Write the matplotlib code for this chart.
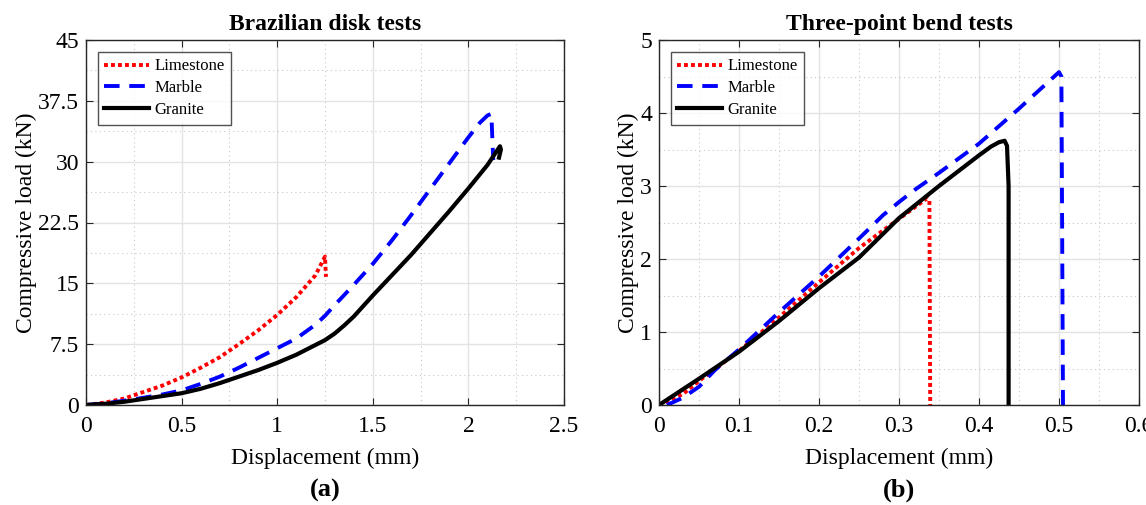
import numpy as np
import matplotlib.pyplot as plt
from matplotlib.ticker import MultipleLocator

plt.rcParams['font.family'] = ['Liberation Serif', 'DejaVu Serif']

# Brazilian disk tests (a)
bd_lime_x = [0, 0.1, 0.2, 0.3, 0.4, 0.5, 0.6, 0.7, 0.8, 0.9, 1.0, 1.1, 1.2, 1.25, 1.255]
bd_lime_y = [0, 0.3, 0.8, 1.6, 2.4, 3.4, 4.6, 5.9, 7.5, 9.2, 11.1, 13.3, 16.0, 18.3, 15.8]
bd_marb_x = [0, 0.1, 0.25, 0.4, 0.5, 0.6, 0.7, 0.8, 0.9, 1.0, 1.1, 1.2, 1.25, 1.3, 1.4, 1.5,
             1.6, 1.7, 1.8, 1.9, 2.0, 2.06, 2.1, 2.12, 2.125, 2.13]
bd_marb_y = [0, 0.2, 0.7, 1.3, 1.8, 2.6, 3.5, 4.6, 5.8, 7.0, 8.2, 9.9, 11.0, 12.3, 14.8, 17.4,
             20.3, 23.4, 26.6, 29.8, 33.0, 34.8, 35.7, 35.9, 33.0, 30.2]
bd_gran_x = [0, 0.1, 0.2, 0.3, 0.4, 0.5, 0.6, 0.7, 0.8, 0.9, 1.0, 1.1, 1.2, 1.25, 1.3, 1.35,
             1.4, 1.5, 1.6, 1.7, 1.8, 1.9, 2.0, 2.1, 2.165, 2.17, 2.16]
bd_gran_y = [0, 0.15, 0.4, 0.75, 1.1, 1.45, 2.0, 2.7, 3.5, 4.3, 5.2, 6.2, 7.4, 8.0, 8.8, 9.8,
             10.9, 13.5, 16.0, 18.5, 21.2, 23.9, 26.7, 29.6, 31.9, 31.5, 30.5]

# Three-point bend tests (b)
tp_lime_x = [0, 0.03, 0.05, 0.1, 0.15, 0.2, 0.25, 0.3, 0.335, 0.338, 0.339]
tp_lime_y = [0, 0.15, 0.33, 0.74, 1.2, 1.68, 2.15, 2.55, 2.83, 2.8, 0]
tp_marb_x = [0.01, 0.03, 0.05, 0.07, 0.1, 0.15, 0.2, 0.25, 0.28, 0.3, 0.32, 0.35, 0.4, 0.45,
             0.5, 0.503, 0.505]
tp_marb_y = [0, 0.1, 0.25, 0.48, 0.76, 1.27, 1.76, 2.28, 2.6, 2.78, 2.95, 3.18, 3.58, 4.06,
             4.56, 4.5, 0]
tp_gran_x = [0, 0.05, 0.1, 0.15, 0.2, 0.25, 0.3, 0.35, 0.4, 0.415, 0.425, 0.432, 0.435,
             0.437, 0.437]
tp_gran_y = [0, 0.36, 0.73, 1.15, 1.6, 2.02, 2.56, 3.0, 3.42, 3.54, 3.6, 3.62, 3.55, 3.0, 0]

fig = plt.figure(figsize=(11.46, 5.05), dpi=100)
ax1 = fig.add_axes([86 / 1146, 1 - 405 / 505, 478 / 1146, 365 / 505])
ax2 = fig.add_axes([659 / 1146, 1 - 405 / 505, 480 / 1146, 365 / 505])


def style(ax, xmaj, ymaj):
    ax.xaxis.set_major_locator(MultipleLocator(xmaj))
    ax.xaxis.set_minor_locator(MultipleLocator(xmaj / 2))
    ax.yaxis.set_major_locator(MultipleLocator(ymaj))
    ax.yaxis.set_minor_locator(MultipleLocator(ymaj / 2))
    ax.grid(which='major', color='#e3e3e3', linewidth=1.0)
    ax.grid(which='minor', color='#c8c8c8', linestyle=(0, (1, 3)), linewidth=0.8)
    ax.set_axisbelow(True)
    ax.tick_params(which='both', direction='in', top=True, right=True,
                   labelsize=17, color='#262626', pad=5)
    ax.tick_params(axis='x', which='major', pad=8)
    ax.tick_params(which='major', length=5)
    ax.tick_params(which='minor', length=0)
    for s in ax.spines.values():
        s.set_color('#262626')
        s.set_linewidth(1.0)


for ax, lx, ly, mx, my, gx, gy in [
        (ax1, bd_lime_x, bd_lime_y, bd_marb_x, bd_marb_y, bd_gran_x, bd_gran_y),
        (ax2, tp_lime_x, tp_lime_y, tp_marb_x, tp_marb_y, tp_gran_x, tp_gran_y)]:
    ax.plot(lx, ly, color='red', linestyle=(0, (1, 0.8)), linewidth=2.8, label='Limestone')
    ax.plot(mx, my, color='blue', linestyle=(0, (4, 2.5)), linewidth=2.8, label='Marble')
    ax.plot(gx, gy, color='black', linestyle='-', linewidth=3.0, label='Granite')
    leg = ax.legend(loc='upper left', fontsize=12, frameon=True, fancybox=False,
                    edgecolor='#262626', handlelength=2.7, handletextpad=0.3,
                    borderaxespad=0.7, labelspacing=0.35, borderpad=0.4)
    leg.get_frame().set_linewidth(1.0)
    ax.set_xlabel('Displacement (mm)', fontsize=17, labelpad=8)
    ax.set_ylabel('Compressive load (kN)', fontsize=17, labelpad=1)

style(ax1, 0.5, 7.5)
ax1.set_xlim(0, 2.5)
ax1.set_ylim(0, 45)
ax1.set_yticks([0, 7.5, 15, 22.5, 30, 37.5, 45])
ax1.set_yticklabels(['0', '7.5', '15', '22.5', '30', '37.5', '45'])
ax1.set_xticks([0, 0.5, 1, 1.5, 2, 2.5])
ax1.set_xticklabels(['0', '0.5', '1', '1.5', '2', '2.5'])
ax1.set_title('Brazilian disk tests', fontsize=17, fontweight='bold', pad=7)

style(ax2, 0.1, 1)
ax2.set_xlim(0, 0.6)
ax2.set_ylim(0, 5)
ax2.set_xticks([0, 0.1, 0.2, 0.3, 0.4, 0.5, 0.6])
ax2.set_xticklabels(['0', '0.1', '0.2', '0.3', '0.4', '0.5', '0.6'])
ax2.set_title('Three-point bend tests', fontsize=17, fontweight='bold', pad=7)

fig.text((86 + 239) / 1146, 1 - 490 / 505, '(a)', fontsize=19, fontweight='bold',
         ha='center', va='center')
fig.text((659 + 240) / 1146, 1 - 490 / 505, '(b)', fontsize=19, fontweight='bold',
         ha='center', va='center')

fig.savefig('out.png', dpi=100)
